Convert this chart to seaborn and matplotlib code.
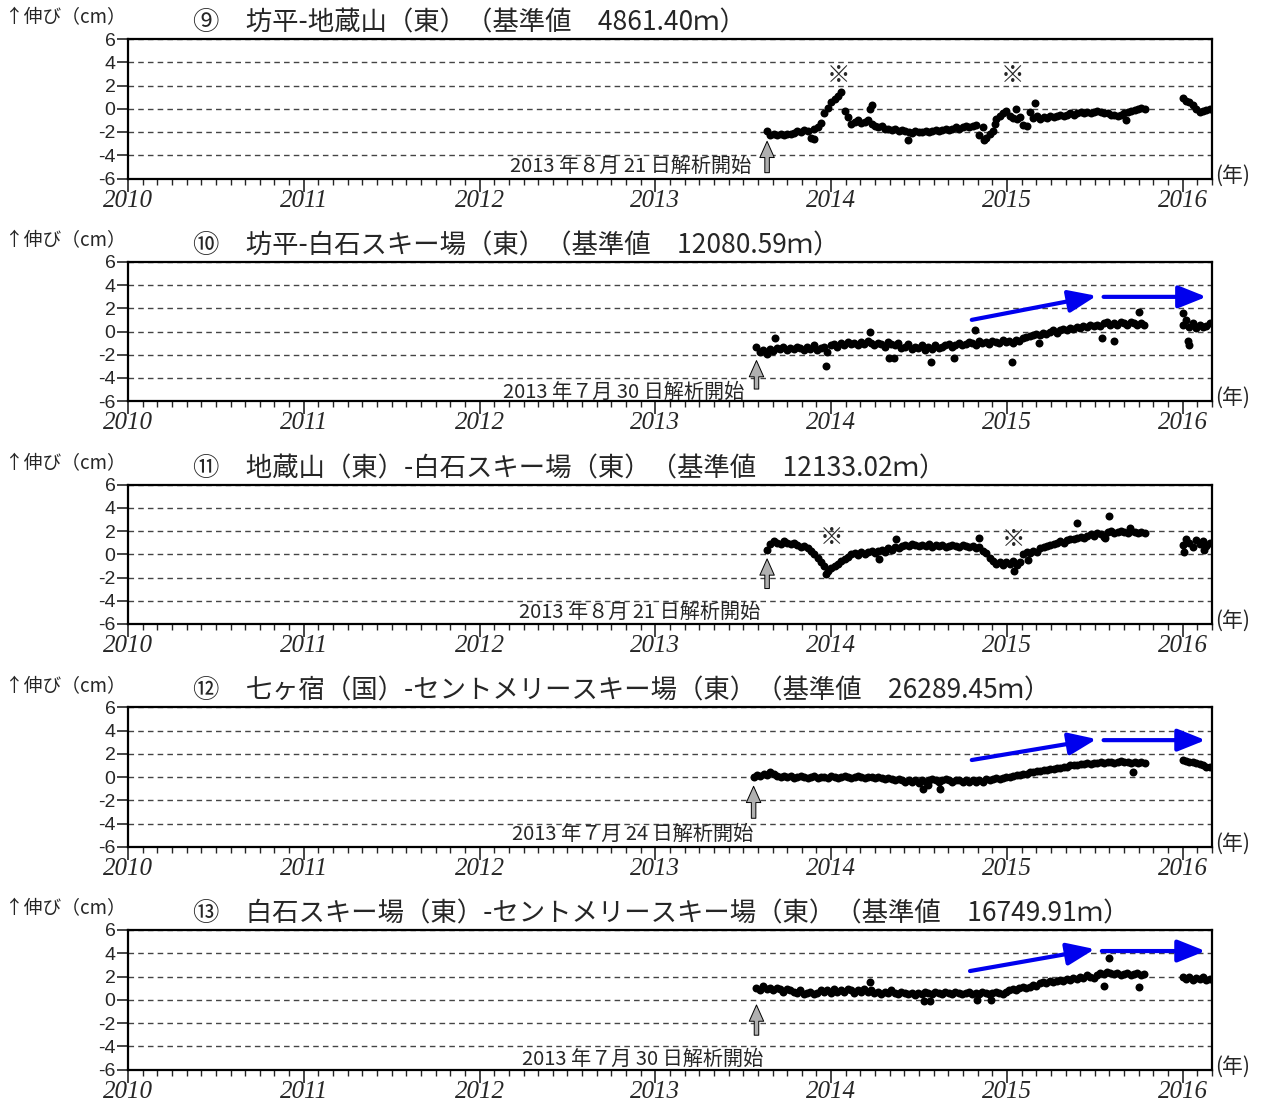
import numpy as np
import pandas as pd
import matplotlib
matplotlib.use("Agg")
import matplotlib.pyplot as plt
import seaborn as sns

# ---------------- data ----------------
titles = [
    "⑨　坊平-地蔵山（東）（基準値　4861.40ｍ）",
    "⑩　坊平-白石スキー場（東）（基準値　12080.59ｍ）",
    "⑪　地蔵山（東）-白石スキー場（東）（基準値　12133.02ｍ）",
    "⑫　七ヶ宿（国）-セントメリースキー場（東）（基準値　26289.45ｍ）",
    "⑬　白石スキー場（東）-セントメリースキー場（東）（基準値　16749.91ｍ）",
]
start_dates = ["2013-08-21", "2013-07-30", "2013-08-21", "2013-07-24", "2013-07-30"]
start_labels = [
    "2013 年８月 21 日解析開始",
    "2013 年７月 30 日解析開始",
    "2013 年８月 21 日解析開始",
    "2013 年７月 24 日解析開始",
    "2013 年７月 30 日解析開始",
]
seg2_start = "2016-01-01"

# weekly values (cm) from the analysis start date
vals_9 = [-1.9, -2.3, -2.2, -2.3, -2.2, -2.3, -2.2, -2.2, -2.1,
          -1.9, -2.0, -1.8, -1.9, -2.5, -1.7,
          -1.6, -1.2, -0.4, 0.1, 0.6, 0.8, 1.1, 1.4, -0.2, -0.7, -1.3, -1.1,
          -1.0, -1.2, -1.1, -1.0, -1.3,
          -1.5, -1.6, -1.5, -1.7, -1.7, -1.8, -1.7, -1.9, -1.8,
          -1.9, -2.0, -2.1, -1.9, -2.0, -2.0, -1.9, -2.0, -1.9, -1.8,
          -1.9, -1.8, -1.7, -1.8, -1.7, -1.6, -1.7, -1.6, -1.5, -1.6,
          -1.5, -1.4, -2.3, -1.6, -2.5, -2.2, -1.9, -0.9, -0.6, -0.4,
          -0.2, -0.6, -0.8, -0.9, -0.7, -1.4, -1.5, -0.3, -0.8, -0.6,
          -0.9, -0.7, -0.8, -0.6, -0.7, -0.6, -0.5, -0.6, -0.5, -0.4,
          -0.5, -0.4, -0.3, -0.4, -0.3, -0.4, -0.3, -0.2, -0.3, -0.4,
          -0.4, -0.5, -0.5, -0.6, -0.5, -0.4, -0.3, -0.2, -0.1, 0.0,
          0.1, 0.0]
vals_10 = [-1.3, -1.8, -1.6, -1.9, -1.5, -1.7, -1.4, -1.5, -1.3, -1.6, -1.4,
           -1.5, -1.3, -1.4, -1.6, -1.3, -1.5, -1.2, -1.6, -1.4, -1.3,
           -1.8, -1.2, -1.1, -1.3, -1.0, -1.2, -0.9, -1.1, -1.0, -1.2,
           -0.9, -1.1, -0.8, -1.0, -1.2, -1.0, -1.1, -1.3, -0.9, -1.1,
           -1.2, -1.0, -1.4, -1.3, -1.1, -1.5, -1.3, -1.4, -1.2, -1.6,
           -1.3, -1.5, -1.2, -1.4, -1.3, -1.2, -1.1, -1.3, -1.2, -1.0,
           -1.2, -1.1, -0.9, -1.0, -1.2, -0.8, -1.0, -0.9, -1.1, -0.8,
           -0.9, -1.0, -0.7, -0.9, -0.8, -1.0, -0.7, -0.8, -0.6, -0.5,
           -0.4, -0.3, -0.2, -0.3, -0.1, -0.2, 0.0, 0.1, -0.1, 0.1,
           0.2, 0.1, 0.3, 0.2, 0.4, 0.3, 0.5, 0.4, 0.6, 0.5,
           0.6, 0.5, 0.7, 0.8, 0.6, 0.7, 0.6, 0.8, 0.7, 0.6,
           0.8, 0.7, 0.6, 0.7, 0.6]
vals_11 = [0.4, 0.9, 1.1, 1.0, 0.9, 1.1, 1.0, 0.9, 1.0, 0.8, 0.6,
           0.7, 0.5, 0.3, 0.0, -0.3, -0.7, -1.0, -1.4, -1.2, -1.0,
           -0.8, -0.6, -0.4, -0.2, 0.0, 0.1, -0.1, 0.2, 0.0, 0.2,
           0.3, 0.1, 0.3, 0.4, 0.2, 0.5, 0.4, 0.6, 0.5, 0.7,
           0.8, 0.7, 0.9, 0.8, 0.7, 0.8, 0.7, 0.9, 0.6, 0.8,
           0.7, 0.8, 0.6, 0.7, 0.8, 0.7, 0.6, 0.8, 0.7, 0.6,
           0.7, 0.5, 0.6, 0.3, 0.1, -0.3, -0.6, -0.8, -0.7, -0.9,
           -0.7, -0.8, -0.6, -0.9, -0.7, 0.0, 0.2, 0.1, 0.3, 0.2,
           0.5, 0.6, 0.7, 0.8, 0.9, 1.0, 1.1, 1.0, 1.2, 1.3,
           1.3, 1.4, 1.5, 1.4, 1.6, 1.7, 1.6, 1.8, 1.7, 1.5,
           1.9, 2.0, 1.8, 1.9, 2.0, 1.9, 1.8, 2.0, 1.9, 1.8,
           1.9, 1.8]
vals_12 = [0.0, 0.2, 0.1, 0.3, 0.2, 0.4, 0.3, 0.1, 0.0, 0.1, 0.0,
           0.1, -0.1, 0.0, 0.1, 0.0, -0.1, 0.0, 0.1, -0.1, 0.0,
           0.0, -0.1, 0.1, 0.0, -0.1, 0.0, 0.1, 0.0, -0.1, 0.0,
           0.1, 0.0, -0.1, 0.0, 0.0, -0.1, 0.0, -0.1, -0.2, -0.1,
           -0.2, -0.3, -0.2, -0.3, -0.4, -0.3, -0.4, -0.3, -0.5, -0.3,
           -0.4, -0.3, -0.2, -0.3, -0.4, -0.3, -0.2, -0.3, -0.4, -0.3,
           -0.3, -0.4, -0.3, -0.4, -0.3, -0.4, -0.3, -0.4, -0.2, -0.3,
           -0.2, -0.1, -0.2, -0.1, 0.0, 0.0, 0.1, 0.2, 0.2, 0.3,
           0.3, 0.4, 0.4, 0.5, 0.5, 0.6, 0.6, 0.7, 0.7, 0.8,
           0.8, 0.9, 0.9, 1.0, 1.0, 1.0, 1.1, 1.1, 1.2, 1.1,
           1.2, 1.2, 1.3, 1.2, 1.3, 1.3, 1.2, 1.3, 1.4, 1.3,
           1.3, 1.2, 1.3, 1.2, 1.3, 1.2]
vals_13 = [1.0, 0.8, 1.2, 0.9, 1.0, 0.8, 1.0, 0.9, 0.7, 0.9, 0.8,
           0.7, 0.6, 0.8, 0.5, 0.6, 0.7, 0.5, 0.6, 0.8, 0.7,
           0.8, 0.6, 0.9, 0.7, 0.8, 0.7, 0.9, 0.8, 0.6, 0.8,
           0.7, 0.9, 0.7, 0.8, 0.6, 0.7, 0.5, 0.7, 0.6, 0.8,
           0.6, 0.5, 0.7, 0.6, 0.5, 0.6, 0.4, 0.6, 0.5, 0.7,
           0.6, 0.5, 0.7, 0.6, 0.5, 0.7, 0.6, 0.5, 0.7, 0.6,
           0.5, 0.6, 0.7, 0.5, 0.6, 0.5, 0.7, 0.6, 0.5, 0.6,
           0.7, 0.6, 0.5, 0.7, 0.8, 0.9, 0.8, 1.0, 1.1, 1.0,
           1.1, 1.3, 1.2, 1.4, 1.5, 1.4, 1.6, 1.5, 1.6, 1.7,
           1.6, 1.8, 1.7, 1.9, 1.8, 2.0, 1.9, 2.1, 2.0, 1.9,
           2.1, 2.3, 2.2, 2.4, 2.3, 2.2, 2.3, 2.1, 2.2, 2.3,
           2.1, 2.2, 2.3, 2.1, 2.2]
main_values = [vals_9, vals_10, vals_11, vals_12, vals_13]

# weekly values from 2016-01-01
vals2016_9 = [0.9, 0.7, 0.6, 0.3, 0.0, -0.3, -0.2, -0.1, 0.0]
vals2016_10 = [0.6, 1.0, 0.4, 0.7, 0.3, 0.6, 0.4, 0.5, 0.7]
vals2016_11 = [0.8, 1.3, 1.0, 0.6, 1.2, 0.9, 1.1, 0.7, 1.0]
vals2016_12 = [1.5, 1.4, 1.3, 1.3, 1.2, 1.1, 1.0, 0.9, 0.9]
vals2016_13 = [2.0, 1.8, 2.0, 1.7, 1.9, 1.8, 2.0, 1.7, 1.8]
values_2016 = [vals2016_9, vals2016_10, vals2016_11, vals2016_12, vals2016_13]

# isolated points (decimal year, cm)
out_x_9 = [2014.23, 2014.22, 2013.90, 2014.44, 2014.87, 2015.05, 2015.16, 2015.68, 2014.93]
out_y_9 = [0.3, 0.0, -2.6, -2.7, -2.7, 0.0, 0.5, -1.0, -1.3]
out_x_10 = [2013.68, 2013.97, 2014.22, 2014.33, 2014.36, 2014.57, 2014.70, 2014.82,
            2015.03, 2015.18, 2015.54, 2015.61, 2015.75, 2016.00, 2016.03, 2016.035]
out_y_10 = [-0.6, -3.0, 0.0, -2.3, -2.3, -2.6, -2.3, 0.1, -2.6, -1.0, -0.6, -0.8, 1.7, 1.6, -0.8, -1.2]
out_x_11 = [2013.97, 2014.37, 2014.84, 2015.04, 2015.12, 2015.40, 2015.58, 2015.56, 2015.70,
            2014.27, 2016.01, 2016.12]
out_y_11 = [-1.7, 1.3, 1.4, -1.4, -0.5, 2.7, 3.3, 1.4, 2.3, -0.4, 0.2, 0.4]
out_x_12 = [2014.52, 2014.62, 2014.55, 2015.72]
out_y_12 = [-1.0, -1.0, -0.7, 0.4]
out_x_13 = [2014.22, 2014.53, 2014.56, 2014.83, 2014.91, 2015.55, 2015.58, 2015.75]
out_y_13 = [1.5, -0.1, -0.1, 0.0, 0.0, 1.2, 3.6, 1.1]
out_x = [out_x_9, out_x_10, out_x_11, out_x_12, out_x_13]
out_y = [out_y_9, out_y_10, out_y_11, out_y_12, out_y_13]

# annotation positions (data units)
label_xy = [(2012.857, -4.97), (2012.817, -5.2), (2012.908, -5.03), (2012.868, -4.97), (2012.93, -5.1)]
start_arrow_y = [(-5.5, -2.8), (-4.95, -2.5), (-2.95, -0.4), (-3.55, -0.8), (-3.05, -0.45)]
kome_marks = {0: [(2014.04, 2.83), (2015.03, 2.83)], 2: [(2014.0, 1.43), (2015.04, 1.27)]}
blue_arrows = {
    1: [((2014.80, 1.00), (2015.51, 3.07)), ((2015.55, 2.98), (2016.135, 2.98))],
    3: [((2014.80, 1.46), (2015.51, 3.26)), ((2015.55, 3.17), (2016.13, 3.17))],
    4: [((2014.79, 2.47), (2015.50, 4.36)), ((2015.54, 4.19), (2016.13, 4.19))],
}


def dec_year(dates):
    d = pd.DatetimeIndex(dates)
    ndays = np.where(d.is_leap_year, 366.0, 365.0)
    return d.year + (d.dayofyear - 1) / ndays


# ---------------- figure ----------------
sns.set_style("ticks")
plt.rcParams["font.family"] = ["Noto Sans CJK JP", "DejaVu Sans"]
plt.rcParams["axes.unicode_minus"] = False

W, H = 1265, 1106
fig = plt.figure(figsize=(W / 100, H / 100), dpi=100)

left_px, right_px = 128, 1212
first_top, step, ax_h = 39, 222.75, 139.5

for i in range(5):
    top = first_top + step * i
    ax = fig.add_axes([left_px / W, 1 - (top + ax_h) / H, (right_px - left_px) / W, ax_h / H])

    x_main = dec_year(pd.date_range(start_dates[i], periods=len(main_values[i]), freq="7D"))
    x_2016 = dec_year(pd.date_range(seg2_start, periods=len(values_2016[i]), freq="7D"))
    df = pd.DataFrame({
        "year": np.concatenate([x_main, x_2016, out_x[i]]),
        "cm": np.concatenate([main_values[i], values_2016[i], out_y[i]]),
    })
    sns.scatterplot(data=df, x="year", y="cm", ax=ax, color="black", s=33,
                    linewidth=0, marker="o", legend=False, zorder=3)

    ax.set_xlim(2010, 2016.165)
    ax.set_ylim(-6, 6)
    ax.set_xlabel("")
    ax.set_ylabel("")
    ax.set_xticks(np.arange(2010, 2017))
    ax.set_xticks(2010 + np.arange(0, 75) / 12, minor=True)
    ax.set_xticklabels([str(y) for y in range(2010, 2017)],
                       fontfamily="Liberation Serif", fontstyle="italic", fontsize=18)
    ax.set_yticks(np.arange(-6, 7, 2))
    ax.set_yticklabels([str(v) for v in range(-6, 7, 2)],
                       fontfamily="Liberation Sans", fontsize=14)
    ax.tick_params(axis="y", direction="out", length=8, width=1.2, pad=1)
    ax.tick_params(axis="x", which="major", direction="out", length=9, width=1.2, pad=-1)
    ax.tick_params(axis="x", which="minor", direction="out", length=4.5, width=1.0)
    ax.yaxis.grid(True, linestyle=(0, (4, 3)), color="#444444", linewidth=1.0)
    ax.xaxis.grid(False)
    for sp in ax.spines.values():
        sp.set_visible(True)
        sp.set_linewidth(1.6)
        sp.set_color("black")

    # start-of-analysis arrow and label
    sx = dec_year([start_dates[i]])[0]
    y0, y1 = start_arrow_y[i]
    ax.annotate("", xy=(sx, y1), xytext=(sx, y0),
                arrowprops=dict(arrowstyle="simple,head_width=0.8,head_length=0.9,tail_width=0.25",
                                mutation_scale=13, fc="#b0b0b0", ec="black", lw=0.7,
                                shrinkA=0, shrinkB=0), zorder=4)
    ax.text(label_xy[i][0], label_xy[i][1], start_labels[i], ha="center", va="center",
            fontsize=14.5, zorder=5)

    for (kx, ky) in kome_marks.get(i, []):
        ax.text(kx, ky, "※", ha="center", va="center", fontsize=17, zorder=5)
    for (p0, p1) in blue_arrows.get(i, []):
        ax.annotate("", xy=p1, xytext=p0,
                    arrowprops=dict(arrowstyle="-|>,head_width=0.4,head_length=1.0",
                                    color="#0000ee", lw=3, mutation_scale=17,
                                    shrinkA=0, shrinkB=0), zorder=6)

    # figure-level texts
    fig.text(5 / W, 1 - (top - 21) / H, "↑伸び（cm）", ha="left", va="center", fontsize=13.5)
    fig.text(193 / W, 1 - (top - 16) / H, titles[i], ha="left", va="center", fontsize=19)
    fig.text(1215 / W, 1 - (top + ax_h - 3) / H, "(年)", ha="left", va="center", fontsize=15)

fig.savefig("out.png", dpi=100)
